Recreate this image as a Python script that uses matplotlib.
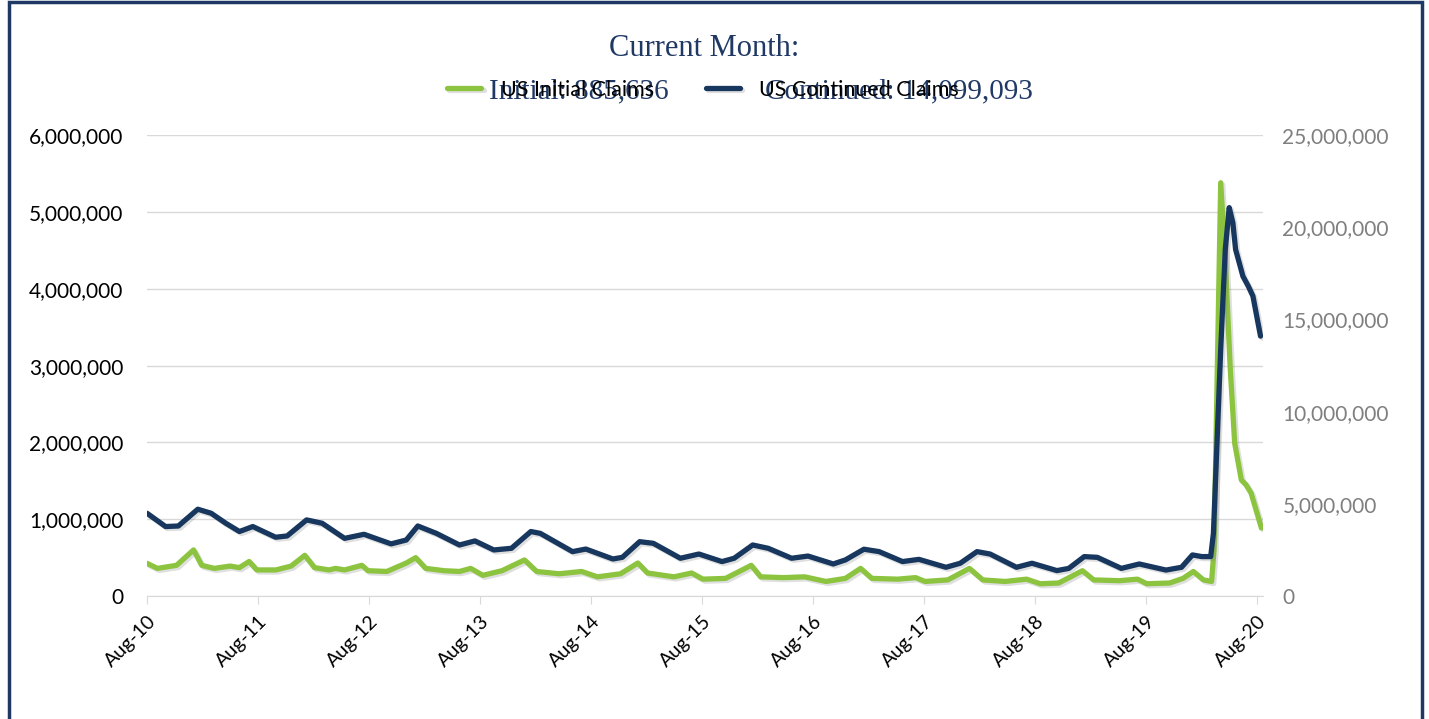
import matplotlib
matplotlib.use("Agg")
import matplotlib.pyplot as plt
import matplotlib.patheffects as pe
from matplotlib.patches import Rectangle
from matplotlib.ticker import FuncFormatter, MultipleLocator
import pandas as pd

# US Initial Claims (left axis)
initial_dates = [
    "2010-08-01", "2010-09-04", "2010-11-06", "2011-01-01", "2011-01-28", "2011-03-10",
    "2011-05-01", "2011-06-01", "2011-07-03", "2011-07-28", "2011-09-29", "2011-11-18",
    "2012-01-02", "2012-02-03", "2012-03-22", "2012-04-12", "2012-05-12", "2012-07-08",
    "2012-07-28", "2012-09-28", "2012-12-01", "2013-01-01", "2013-02-03", "2013-04-05",
    "2013-05-25", "2013-07-01", "2013-08-10", "2013-10-12", "2013-12-25", "2014-02-03",
    "2014-04-18", "2014-07-01", "2014-08-22", "2014-11-06", "2015-01-02", "2015-02-03",
    "2015-05-01", "2015-06-28", "2015-08-04", "2015-10-18", "2016-01-10", "2016-02-10",
    "2016-04-25", "2016-07-04", "2016-09-12", "2016-11-15", "2017-01-04", "2017-02-10",
    "2017-05-06", "2017-07-04", "2017-08-04", "2017-10-18", "2017-12-28", "2018-02-10",
    "2018-04-25", "2018-07-04", "2018-08-18", "2018-10-18", "2019-01-04", "2019-02-10",
    "2019-05-06", "2019-07-04", "2019-08-04", "2019-10-18", "2019-12-01", "2020-01-04",
    "2020-02-06", "2020-03-04", "2020-03-12", "2020-04-03", "2020-04-18", "2020-05-04",
    "2020-05-19", "2020-06-10", "2020-06-25", "2020-07-12", "2020-08-15",
]
initial_claims = [
    426000, 360000, 400000, 600000, 400000, 360000,
    390000, 370000, 450000, 340000, 340000, 390000,
    530000, 370000, 340000, 360000, 340000, 400000,
    330000, 320000, 430000, 500000, 360000, 330000,
    320000, 360000, 270000, 330000, 470000, 320000,
    290000, 320000, 250000, 290000, 430000, 300000,
    250000, 300000, 220000, 230000, 400000, 250000,
    240000, 250000, 190000, 230000, 360000, 230000,
    220000, 240000, 190000, 210000, 360000, 210000,
    190000, 220000, 160000, 170000, 330000, 210000,
    200000, 220000, 160000, 170000, 230000, 320000,
    210000, 190000, 600000, 5380000, 4380000, 2990000,
    1990000, 1510000, 1450000, 1340000, 885636,
]

# US Continued Claims (right axis)
continued_dates = [
    "2010-08-01", "2010-10-01", "2010-11-12", "2011-01-15", "2011-02-28", "2011-04-17",
    "2011-06-01", "2011-07-15", "2011-09-28", "2011-11-05", "2012-01-08", "2012-02-28",
    "2012-05-12", "2012-07-15", "2012-10-12", "2012-12-01", "2013-01-08", "2013-03-10",
    "2013-05-25", "2013-07-15", "2013-09-15", "2013-11-12", "2014-01-15", "2014-02-15",
    "2014-06-01", "2014-07-15", "2014-10-12", "2014-11-12", "2015-01-08", "2015-02-22",
    "2015-05-22", "2015-07-22", "2015-10-06", "2015-11-15", "2016-01-15", "2016-03-06",
    "2016-05-22", "2016-07-15", "2016-10-06", "2016-11-15", "2017-01-15", "2017-03-06",
    "2017-05-22", "2017-07-15", "2017-10-12", "2017-11-28", "2018-01-22", "2018-03-06",
    "2018-06-01", "2018-07-22", "2018-10-12", "2018-11-20", "2019-01-10", "2019-02-22",
    "2019-05-12", "2019-07-10", "2019-10-06", "2019-11-26", "2020-01-01", "2020-02-01",
    "2020-03-01", "2020-03-10", "2020-04-03", "2020-04-18", "2020-05-01", "2020-05-13",
    "2020-05-22", "2020-06-15", "2020-07-03", "2020-07-18", "2020-08-12",
]
continued_claims = [
    4490000, 3770000, 3800000, 4710000, 4490000, 3950000,
    3500000, 3770000, 3190000, 3260000, 4130000, 3950000,
    3130000, 3350000, 2830000, 3040000, 3800000, 3400000,
    2770000, 2990000, 2500000, 2590000, 3500000, 3400000,
    2410000, 2550000, 2010000, 2100000, 2950000, 2860000,
    2050000, 2280000, 1870000, 2050000, 2770000, 2590000,
    2050000, 2170000, 1740000, 1960000, 2540000, 2410000,
    1870000, 1990000, 1560000, 1780000, 2410000, 2280000,
    1560000, 1780000, 1380000, 1500000, 2140000, 2100000,
    1500000, 1740000, 1410000, 1560000, 2230000, 2140000,
    2140000, 3400000, 13400000, 18800000, 21070000, 20250000,
    18800000, 17350000, 16800000, 16270000, 14099093,
]

tick_labels = ["Aug-10", "Aug-11", "Aug-12", "Aug-13", "Aug-14", "Aug-15",
               "Aug-16", "Aug-17", "Aug-18", "Aug-19", "Aug-20"]

green = "#8cc43f"
navy = "#17375e"
title_color = "#1f3864"

plt.rcParams["font.family"] = ["Lato", "DejaVu Sans"]

fig = plt.figure(figsize=(14.29, 7.19), dpi=100)
ax = fig.add_axes([0.1029, 0.171, 0.7809, 0.641])
ax2 = ax.twinx()

shadow = [pe.SimpleLineShadow(offset=(1.5, -1.5), alpha=0.25, shadow_color="grey"), pe.Normal()]

x1 = pd.to_datetime(initial_dates)
x2 = pd.to_datetime(continued_dates)
l1, = ax.plot(x1, initial_claims, color=green, lw=3.8, label="US Initial Claims",
              solid_joinstyle="round", solid_capstyle="round", path_effects=shadow, zorder=3)
l2, = ax2.plot(x2, continued_claims, color=navy, lw=3.8, label="US Continued Claims",
               solid_joinstyle="round", solid_capstyle="round", path_effects=shadow, zorder=3)

ax.set_ylim(0, 6000000)
ax2.set_ylim(0, 25000000)
ax.yaxis.set_major_locator(MultipleLocator(1000000))
ax2.yaxis.set_major_locator(MultipleLocator(5000000))
fmt = FuncFormatter(lambda v, p: f"{int(v):,}")
ax.yaxis.set_major_formatter(fmt)
ax2.yaxis.set_major_formatter(fmt)

ax.set_xlim(pd.Timestamp("2010-08-01"), pd.Timestamp("2020-08-20"))
ticks = pd.to_datetime([f"{y}-08-01" for y in range(2010, 2021)])
ax.set_xticks(ticks)
ax.set_xticklabels(tick_labels, rotation=45, ha="right", rotation_mode="anchor")

ax.grid(axis="y", color="#d9d9d9", lw=1)
ax.set_axisbelow(True)
for a in (ax, ax2):
    for s in ("top", "left", "right", "bottom"):
        a.spines[s].set_visible(False)
ax.spines["bottom"].set_visible(True)
ax.spines["bottom"].set_color("#d9d9d9")

ax.tick_params(axis="y", length=0, pad=17, labelsize=15, labelcolor="#000000")
ax2.tick_params(axis="y", length=0, pad=14, labelsize=15, labelcolor="#7f7f7f")
ax.tick_params(axis="x", length=6, color="#d9d9d9", pad=6, labelsize=14)

fig.text(0.493, 0.933, "Current Month:", family="Liberation Serif", fontsize=22,
         color=title_color, ha="center", va="center")
fig.text(0.342, 0.873, "Initial: 885,636", family="Liberation Serif", fontsize=21,
         color=title_color, ha="left", va="center")
fig.text(0.535, 0.873, "Continued: 14,099,093", family="Liberation Serif", fontsize=21,
         color=title_color, ha="left", va="center")

fig.legend(handles=[l1, l2], loc="center", bbox_to_anchor=(0.492, 0.875), ncol=2,
           frameon=False, fontsize=15.5, handlelength=1.6, handletextpad=0.9,
           columnspacing=2.4)

fig.patches.append(Rectangle((0.0063, -0.02), 0.9888, 1.017, transform=fig.transFigure,
                             fill=False, edgecolor=title_color, lw=2.5))

fig.savefig("out.png", dpi=100)
